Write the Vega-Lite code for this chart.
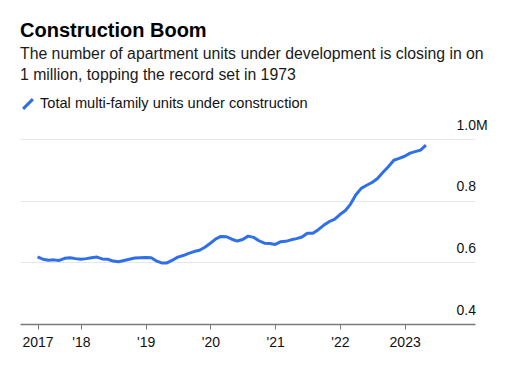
{
  "$schema": "https://vega.github.io/schema/vega-lite/v6.json",
  "width": 455,
  "height": 185,
  "autosize": {"type": "none"},
  "padding": {"left": 20, "top": 139, "right": 50, "bottom": 66},
  "background": "white",
  "title": {
    "text": "Construction Boom",
    "subtitle": ["The number of apartment units under development is closing in on", "1 million, topping the record set in 1973"]
  },
  "config": {
    "font": "Liberation Sans",
    "view": {"stroke": null},
    "title": {
      "anchor": "start",
      "frame": "group",
      "fontSize": 20,
      "fontWeight": "bold",
      "color": "#000000",
      "subtitleFontSize": 15.8,
      "subtitleColor": "#1a1a1a",
      "subtitleLineHeight": 21,
      "subtitlePadding": 6,
      "offset": 13
    }
  },
  "data": {
    "values": [
      {"date": "2017-05-01", "value": 0.618, "series": "Total multi-family units under construction"},
      {"date": "2017-06-01", "value": 0.610, "series": "Total multi-family units under construction"},
      {"date": "2017-07-01", "value": 0.607, "series": "Total multi-family units under construction"},
      {"date": "2017-08-01", "value": 0.608, "series": "Total multi-family units under construction"},
      {"date": "2017-09-01", "value": 0.606, "series": "Total multi-family units under construction"},
      {"date": "2017-10-01", "value": 0.613, "series": "Total multi-family units under construction"},
      {"date": "2017-11-01", "value": 0.615, "series": "Total multi-family units under construction"},
      {"date": "2017-12-01", "value": 0.612, "series": "Total multi-family units under construction"},
      {"date": "2018-01-01", "value": 0.610, "series": "Total multi-family units under construction"},
      {"date": "2018-02-01", "value": 0.612, "series": "Total multi-family units under construction"},
      {"date": "2018-03-01", "value": 0.615, "series": "Total multi-family units under construction"},
      {"date": "2018-04-01", "value": 0.617, "series": "Total multi-family units under construction"},
      {"date": "2018-05-01", "value": 0.611, "series": "Total multi-family units under construction"},
      {"date": "2018-06-01", "value": 0.610, "series": "Total multi-family units under construction"},
      {"date": "2018-07-01", "value": 0.604, "series": "Total multi-family units under construction"},
      {"date": "2018-08-01", "value": 0.602, "series": "Total multi-family units under construction"},
      {"date": "2018-09-01", "value": 0.606, "series": "Total multi-family units under construction"},
      {"date": "2018-10-01", "value": 0.610, "series": "Total multi-family units under construction"},
      {"date": "2018-11-01", "value": 0.614, "series": "Total multi-family units under construction"},
      {"date": "2018-12-01", "value": 0.615, "series": "Total multi-family units under construction"},
      {"date": "2019-01-01", "value": 0.616, "series": "Total multi-family units under construction"},
      {"date": "2019-02-01", "value": 0.615, "series": "Total multi-family units under construction"},
      {"date": "2019-03-01", "value": 0.605, "series": "Total multi-family units under construction"},
      {"date": "2019-04-01", "value": 0.598, "series": "Total multi-family units under construction"},
      {"date": "2019-05-01", "value": 0.598, "series": "Total multi-family units under construction"},
      {"date": "2019-06-01", "value": 0.607, "series": "Total multi-family units under construction"},
      {"date": "2019-07-01", "value": 0.617, "series": "Total multi-family units under construction"},
      {"date": "2019-08-01", "value": 0.622, "series": "Total multi-family units under construction"},
      {"date": "2019-09-01", "value": 0.629, "series": "Total multi-family units under construction"},
      {"date": "2019-10-01", "value": 0.635, "series": "Total multi-family units under construction"},
      {"date": "2019-11-01", "value": 0.639, "series": "Total multi-family units under construction"},
      {"date": "2019-12-01", "value": 0.649, "series": "Total multi-family units under construction"},
      {"date": "2020-01-01", "value": 0.662, "series": "Total multi-family units under construction"},
      {"date": "2020-02-01", "value": 0.676, "series": "Total multi-family units under construction"},
      {"date": "2020-03-01", "value": 0.684, "series": "Total multi-family units under construction"},
      {"date": "2020-04-01", "value": 0.683, "series": "Total multi-family units under construction"},
      {"date": "2020-05-01", "value": 0.675, "series": "Total multi-family units under construction"},
      {"date": "2020-06-01", "value": 0.669, "series": "Total multi-family units under construction"},
      {"date": "2020-07-01", "value": 0.674, "series": "Total multi-family units under construction"},
      {"date": "2020-08-01", "value": 0.685, "series": "Total multi-family units under construction"},
      {"date": "2020-09-01", "value": 0.681, "series": "Total multi-family units under construction"},
      {"date": "2020-10-01", "value": 0.670, "series": "Total multi-family units under construction"},
      {"date": "2020-11-01", "value": 0.662, "series": "Total multi-family units under construction"},
      {"date": "2020-12-01", "value": 0.661, "series": "Total multi-family units under construction"},
      {"date": "2021-01-01", "value": 0.658, "series": "Total multi-family units under construction"},
      {"date": "2021-02-01", "value": 0.667, "series": "Total multi-family units under construction"},
      {"date": "2021-03-01", "value": 0.668, "series": "Total multi-family units under construction"},
      {"date": "2021-04-01", "value": 0.673, "series": "Total multi-family units under construction"},
      {"date": "2021-05-01", "value": 0.677, "series": "Total multi-family units under construction"},
      {"date": "2021-06-01", "value": 0.682, "series": "Total multi-family units under construction"},
      {"date": "2021-07-01", "value": 0.694, "series": "Total multi-family units under construction"},
      {"date": "2021-08-01", "value": 0.694, "series": "Total multi-family units under construction"},
      {"date": "2021-09-01", "value": 0.706, "series": "Total multi-family units under construction"},
      {"date": "2021-10-01", "value": 0.720, "series": "Total multi-family units under construction"},
      {"date": "2021-11-01", "value": 0.732, "series": "Total multi-family units under construction"},
      {"date": "2021-12-01", "value": 0.739, "series": "Total multi-family units under construction"},
      {"date": "2022-01-01", "value": 0.755, "series": "Total multi-family units under construction"},
      {"date": "2022-02-01", "value": 0.768, "series": "Total multi-family units under construction"},
      {"date": "2022-03-01", "value": 0.788, "series": "Total multi-family units under construction"},
      {"date": "2022-04-01", "value": 0.819, "series": "Total multi-family units under construction"},
      {"date": "2022-05-01", "value": 0.840, "series": "Total multi-family units under construction"},
      {"date": "2022-06-01", "value": 0.850, "series": "Total multi-family units under construction"},
      {"date": "2022-07-01", "value": 0.859, "series": "Total multi-family units under construction"},
      {"date": "2022-08-01", "value": 0.872, "series": "Total multi-family units under construction"},
      {"date": "2022-09-01", "value": 0.892, "series": "Total multi-family units under construction"},
      {"date": "2022-10-01", "value": 0.910, "series": "Total multi-family units under construction"},
      {"date": "2022-11-01", "value": 0.931, "series": "Total multi-family units under construction"},
      {"date": "2022-12-01", "value": 0.937, "series": "Total multi-family units under construction"},
      {"date": "2023-01-01", "value": 0.944, "series": "Total multi-family units under construction"},
      {"date": "2023-02-01", "value": 0.954, "series": "Total multi-family units under construction"},
      {"date": "2023-03-01", "value": 0.959, "series": "Total multi-family units under construction"},
      {"date": "2023-04-01", "value": 0.964, "series": "Total multi-family units under construction"},
      {"date": "2023-05-01", "value": 0.980, "series": "Total multi-family units under construction"}
    ]
  },
  "mark": {"type": "line", "strokeWidth": 3, "strokeJoin": "round", "strokeCap": "butt"},
  "encoding": {
    "x": {
      "field": "date",
      "type": "temporal",
      "scale": {"type": "utc", "domain": [{"year": 2017, "month": 1, "date": 22, "utc": true}, {"year": 2024, "month": 2, "date": 2, "utc": true}]},
      "axis": {
        "title": null,
        "values": [
          {"year": 2017, "month": 5, "date": 1, "utc": true},
          {"year": 2018, "month": 1, "date": 1, "utc": true},
          {"year": 2019, "month": 1, "date": 1, "utc": true},
          {"year": 2020, "month": 1, "date": 1, "utc": true},
          {"year": 2021, "month": 1, "date": 1, "utc": true},
          {"year": 2022, "month": 1, "date": 1, "utc": true},
          {"year": 2023, "month": 1, "date": 1, "utc": true}
        ],
        "labelExpr": "utcyear(datum.value) == 2017 || utcyear(datum.value) == 2023 ? utcFormat(datum.value, '%Y') : \"'\" + utcFormat(datum.value, '%y')",
        "grid": false,
        "domain": true,
        "domainColor": "#7a7a7a",
        "domainWidth": 1.5,
        "ticks": true,
        "tickColor": "#7a7a7a",
        "tickSize": 5,
        "tickWidth": 1,
        "labelFontSize": 14,
        "labelColor": "#111111",
        "labelPadding": 6,
        "labelFlush": false,
        "labelOverlap": false
      }
    },
    "y": {
      "field": "value",
      "type": "quantitative",
      "scale": {"domain": [0.4, 1.0], "nice": false, "zero": false},
      "axis": {
        "title": null,
        "orient": "right",
        "values": [0.4, 0.6, 0.8, 1.0],
        "labelExpr": "datum.value == 1 ? '1.0M' : format(datum.value, '.1f')",
        "grid": true,
        "gridColor": "#e6e6e6",
        "gridWidth": 1,
        "domain": false,
        "ticks": false,
        "labelAlign": "left",
        "labelBaseline": "bottom",
        "labelPadding": -19,
        "labelOffset": -7,
        "labelFontSize": 14,
        "labelColor": "#111111",
        "labelFlush": false,
        "labelOverlap": false
      }
    },
    "color": {
      "field": "series",
      "type": "nominal",
      "scale": {"range": ["#2f6fe8"]},
      "legend": {
        "title": null,
        "orient": "none",
        "legendX": 0,
        "legendY": -43,
        "padding": 0,
        "symbolType": "M-0.8,0.8L0.8,-0.8",
        "symbolSize": 150,
        "symbolStrokeWidth": 3,
        "labelFontSize": 14.6,
        "labelLimit": 0,
        "labelColor": "#111111",
        "labelOffset": 4
      }
    }
  }
}
